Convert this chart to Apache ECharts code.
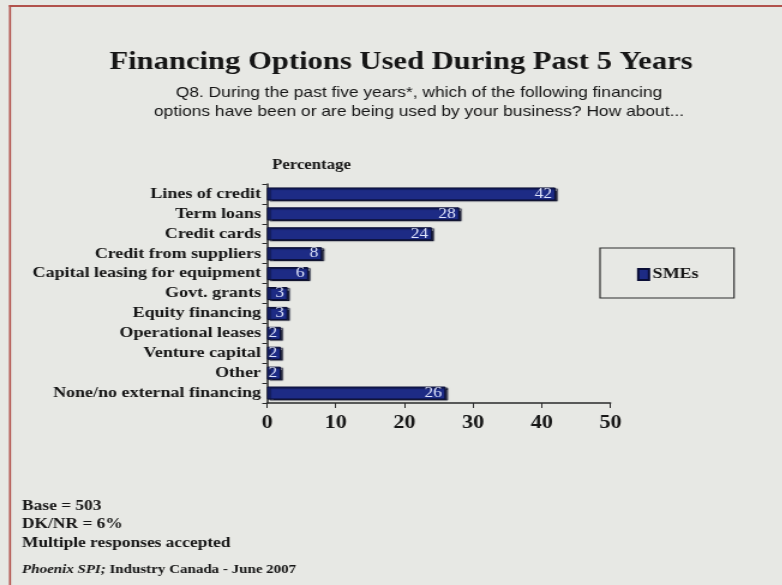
<!DOCTYPE html>
<html>
<head>
<meta charset="utf-8">
<script src="https://cdn.jsdelivr.net/npm/echarts@6/dist/echarts.min.js"></script>
<style>
  html, body { margin: 0; padding: 0; background: #e7e8e4; overflow: hidden; }
  #chart { height: 585px; transform-origin: 0 0; }
</style>
</head>
<body>
<div id="chart"></div>
<script>
// Financing options used by SMEs over the past five years (percent)
const categories = [
  'Lines of credit',
  'Term loans',
  'Credit cards',
  'Credit from suppliers',
  'Capital leasing for equipment',
  'Govt. grants',
  'Equity financing',
  'Operational leases',
  'Venture capital',
  'Other',
  'None/no external financing'
];
const smeValues = [42, 28, 24, 8, 6, 3, 3, 2, 2, 2, 26];
const xTicks = [0, 10, 20, 30, 40, 50];
const seriesName = 'SMEs';

// The slide typography is set wide: the chart is laid out in a narrower
// box and stretched horizontally by this factor to fill 782px.
const S = 1.2;
const W = 782;
const el = document.getElementById('chart');
el.style.width = (W / S) + 'px';
el.style.transform = 'scaleX(' + S + ')';
const X = px => px / S;   // page x -> layout x

const serif = '"Liberation Serif", "Times New Roman", serif';
const sans = '"Liberation Sans", Arial, sans-serif';
const ink = '#161616';
const frame = '#b2524c';

const chart = echarts.init(el, null, { renderer: 'canvas' });

chart.setOption({
  backgroundColor: '#e7e8e4',
  animation: false,
  title: [
    {
      text: 'Financing Options Used During Past 5 Years',
      left: X(395),
      top: 44,
      textAlign: 'center',
      textStyle: { fontFamily: serif, fontSize: 25.5, fontWeight: 'bold', color: ink }
    },
    {
      text: 'Q8. During the past five years*, which of the following financing\noptions have been or are being used by your business? How about...',
      left: X(413),
      top: 78.5,
      textAlign: 'center',
      textStyle: { fontFamily: sans, fontSize: 14.5, fontWeight: 'normal', color: ink, lineHeight: 19 }
    }
  ],
  grid: { left: X(267), right: X(W - 610), top: 184, bottom: 182, containLabel: false },
  legend: {
    show: true,
    data: [seriesName],
    left: X(637),
    top: 267,
    padding: 0,
    icon: 'rect',
    itemWidth: 9,
    itemHeight: 11,
    itemGap: 4,
    textStyle: { fontFamily: serif, fontSize: 15, fontWeight: 'bold', color: ink, padding: [0, 0, 0, -2] }
  },
  xAxis: {
    type: 'value',
    min: xTicks[0],
    max: xTicks[xTicks.length - 1],
    interval: 10,
    splitLine: { show: false },
    axisLine: { show: true, lineStyle: { color: '#2a2a2a', width: 1.5 } },
    axisTick: { show: true, length: 5, lineStyle: { color: '#2a2a2a' } },
    axisLabel: { fontFamily: serif, fontSize: 18.5, fontWeight: 'bold', color: ink, margin: 11 }
  },
  yAxis: {
    type: 'category',
    data: categories,
    inverse: true,
    axisLine: { show: true, lineStyle: { color: '#2a2a2a', width: 1.5 } },
    axisTick: { show: true, length: 4, lineStyle: { color: '#2a2a2a' } },
    axisLabel: { fontFamily: serif, fontSize: 15, fontWeight: 'bold', color: ink, margin: X(6), padding: [3, 0, 0, 0] }
  },
  series: [
    {
      name: seriesName,
      type: 'bar',
      data: smeValues,
      barWidth: 13,
      itemStyle: {
        color: '#1d2b85',
        borderColor: '#0a0e36',
        borderWidth: 1,
        shadowColor: 'rgba(8,10,36,0.85)',
        shadowOffsetX: 2,
        shadowOffsetY: 1,
        shadowBlur: 1
      },
      label: {
        show: true,
        position: 'insideRight',
        distance: 3,
        color: '#dfe4fb',
        fontFamily: serif,
        fontSize: 14.5,
        fontWeight: 'normal'
      }
    }
  ],
  graphic: [
    // page frame edges
    { type: 'rect', shape: { x: X(9), y: 5, width: W, height: 2 }, style: { fill: frame } },
    { type: 'rect', shape: { x: X(9), y: 5, width: X(2), height: 600 }, style: { fill: frame } },
    // axis caption
    { type: 'text', left: X(272), top: 158, style: { text: 'Percentage', font: 'bold 14px ' + serif, fill: ink } },
    // legend box
    { type: 'rect', shape: { x: X(600), y: 248, width: X(134), height: 50 }, style: { fill: 'none', stroke: '#2e2e2e', lineWidth: 1.2 } },
    // footnotes
    { type: 'text', left: X(22), top: 499, style: { text: 'Base = 503', font: 'bold 14.5px ' + serif, fill: ink } },
    { type: 'text', left: X(22), top: 517, style: { text: 'DK/NR = 6%', font: 'bold 14.5px ' + serif, fill: ink } },
    { type: 'text', left: X(22), top: 536, style: { text: 'Multiple responses accepted', font: 'bold 14.5px ' + serif, fill: ink } },
    {
      type: 'text', left: X(22), top: 563,
      style: {
        text: '{i|Phoenix SPI;} Industry Canada - June 2007',
        font: 'bold 12.5px ' + serif,
        fill: ink,
        rich: { i: { fontFamily: serif, fontSize: 12.5, fontWeight: 'bold', fontStyle: 'italic', color: ink } }
      }
    }
  ]
});
</script>
</body>
</html>
